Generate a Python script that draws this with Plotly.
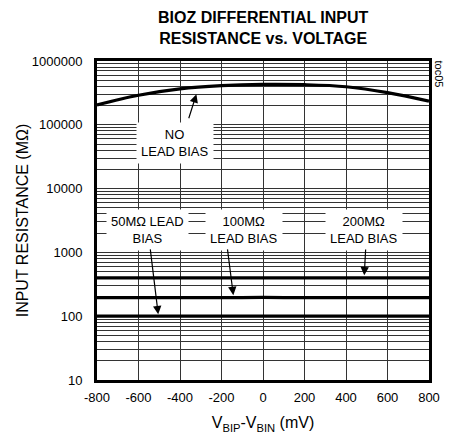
import plotly.graph_objects as go

# data
vdiff = [-800, -600, -400, -200, 0, 200, 400, 600, 800]
r_no_bias = [205000, 290000, 365000, 410000, 430000, 425000, 395000, 320000, 235000]
r_200m = [400, 400, 400, 400, 400, 400, 400, 400, 400]
r_100m = [195, 195, 195, 195, 197, 195, 195, 195, 195]
r_50m = [100, 100, 100, 100, 100, 100, 100, 100, 100]

x_ticks = [-800, -600, -400, -200, 0, 200, 400, 600, 800]
y_decades = [10, 100, 1000, 10000, 100000, 1000000]

FONT = "Liberation Sans, Arial"

y_tickvals = []
y_ticktext = []
for d in y_decades:
    for m in range(1, 10):
        v = d * m
        if v > 1000000:
            break
        y_tickvals.append(v)
        y_ticktext.append(str(v) if m == 1 else "")

fig = go.Figure()
for ys in (r_no_bias, r_200m, r_100m, r_50m):
    fig.add_trace(go.Scatter(x=vdiff, y=ys, mode="lines", line=dict(color="black", width=3.2, shape="spline"),
                             showlegend=False, hoverinfo="skip"))

ann_font = dict(family=FONT, size=13, color="black")
def label(x, ly, text):
    # ly is log10 of the resistance (annotation coords on a log axis)
    fig.add_annotation(x=x, y=ly, xref="x", yref="y", text=text, showarrow=False, font=ann_font,
                       bgcolor="white", borderpad=4, align="center")

def arrow(x0, ly0, x1, ly1):
    fig.add_annotation(x=x1, y=ly1, ax=x0, ay=ly0, xref="x", yref="y", axref="x", ayref="y", text="",
                       showarrow=True, arrowhead=2, arrowsize=1.4, arrowwidth=1.2, arrowcolor="black")

label(-423, 4.72, "NO<br>LEAD BIAS")
arrow(-360, 5.08, -321, 5.48)
label(-558, 3.35, "50MΩ LEAD<br>BIAS")
label(-94, 3.35, "100MΩ<br>LEAD BIAS")
label(486, 3.35, "200MΩ<br>LEAD BIAS")
arrow(-544, 3.07, -505, 2.03)
arrow(-172, 3.07, -143, 2.33)
arrow(495, 3.07, 488, 2.64)

fig.add_annotation(x=1.0, y=1.0, xref="paper", yref="paper", xshift=10, yshift=3, text="toc05", showarrow=False,
                   textangle=90, font=dict(family=FONT, size=11, color="black"), xanchor="center", yanchor="top")

fig.add_annotation(x=0.5, y=1.0, xref="paper", yref="paper", yshift=12, xanchor="center", yanchor="bottom",
                   text="<b>BIOZ DIFFERENTIAL INPUT<br>RESISTANCE vs. VOLTAGE</b>", showarrow=False,
                   font=dict(family=FONT, size=16, color="black"), align="center")

fig.update_layout(
    width=449, height=445,
    margin=dict(l=97, r=20, t=61, b=65, autoexpand=False),
    paper_bgcolor="white", plot_bgcolor="white",
    font=dict(family=FONT, size=13, color="black"),
)
fig.update_xaxes(range=[-800, 800], tickvals=x_ticks, ticktext=[str(v) for v in x_ticks], showgrid=True,
                 gridcolor="#333", gridwidth=1, showline=True, linecolor="black", linewidth=3, mirror=True,
                 ticks="", zeroline=False, automargin=False, ticklabelstandoff=3,
                 title=dict(text="V<sub>BIP</sub>-V<sub>BIN</sub> (mV)", standoff=14),
                 tickfont=dict(size=13))
fig.update_yaxes(type="log", range=[1, 6], tickvals=y_tickvals, ticktext=y_ticktext, showgrid=True,
                 gridcolor="#333", gridwidth=1, showline=True, linecolor="black", linewidth=3, mirror=True,
                 ticks="", zeroline=False, automargin=False, ticklabelstandoff=9,
                 title=dict(text="INPUT RESISTANCE (MΩ)", standoff=0),
                 tickfont=dict(size=13))

fig.write_html("out.html", config={"displayModeBar": False},
               post_script="document.body.style.margin='0';")
